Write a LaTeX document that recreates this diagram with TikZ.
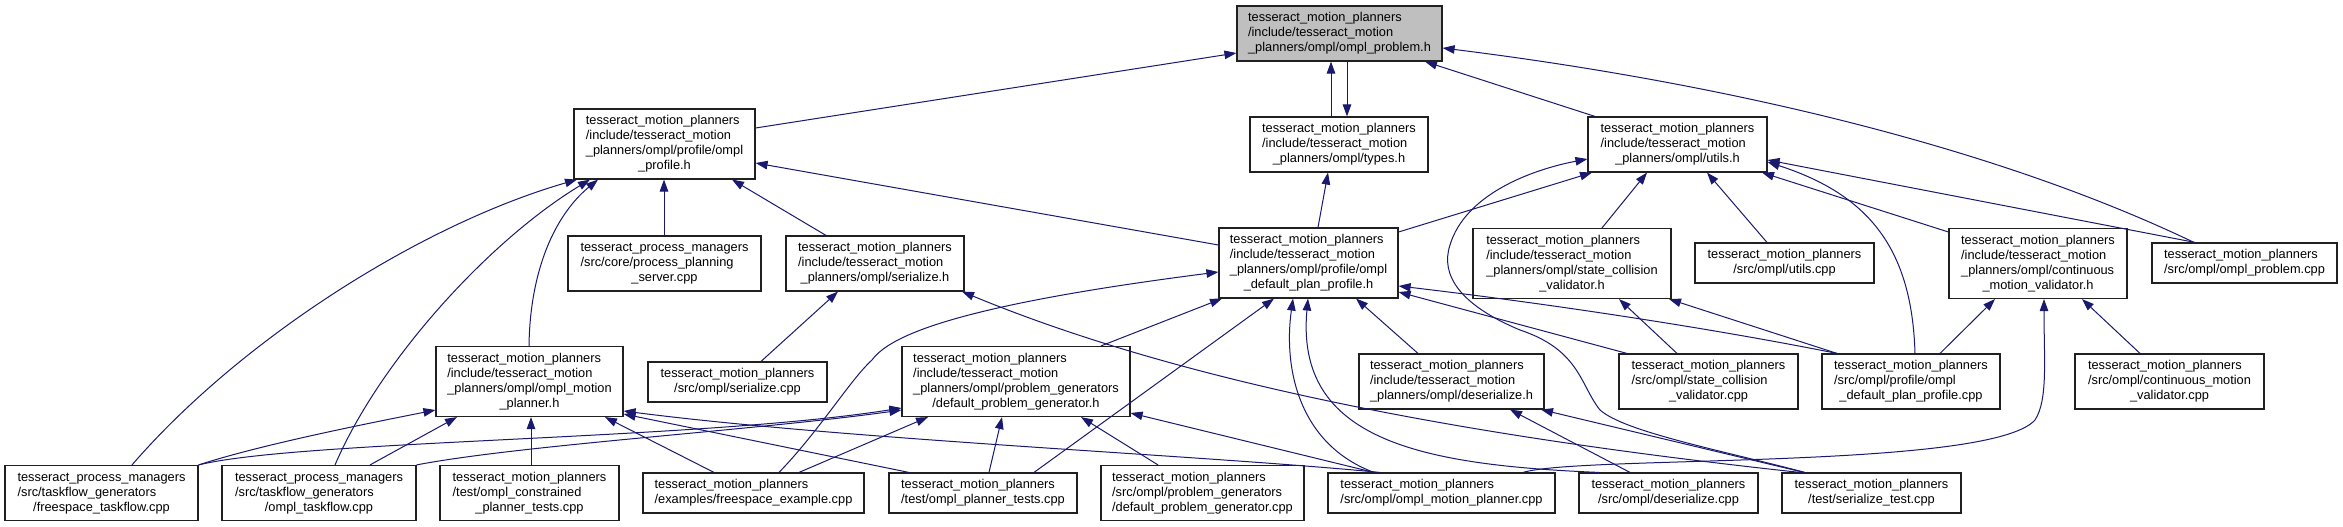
\documentclass[tikz,border=0pt]{standalone}
\usepackage{fontspec}
\setmainfont{Liberation Sans}
\usetikzlibrary{arrows.meta,calc}
\definecolor{edgeblue}{HTML}{191970}
\definecolor{probgray}{HTML}{BFBFBF}
\definecolor{boxline}{HTML}{202020}
\newcommand{\lbl}[2]{\begin{tabular}{@{}l@{}}#1\\\multicolumn{1}{@{}c@{}}{#2}\end{tabular}}
\begin{document}
\begin{tikzpicture}[x=1pt,y=-1pt,
  box/.style={draw=boxline, line width=1.15pt, fill=white, inner sep=0pt, anchor=center,
    font=\fontsize{12.8}{15}\selectfont},
  sz/.style 2 args={minimum width=#1pt, minimum height=#2pt},
  dep/.style={draw=edgeblue, line width=1pt, -{Triangle[length=12pt,width=8.5pt]}}]
\fill[white] (0,0) rectangle (2343,527);
\useasboundingbox (0,0) rectangle (2343,527);
% ---- nodes ----
\node[box,sz={205}{55},fill=probgray] (problem) at (1339.5,33.5) {\lbl{tesseract\_motion\_planners\\/include/tesseract\_motion}{\_planners/ompl/ompl\_problem.h}};
\node[box,sz={181}{70}] (profile) at (664.5,144) {\lbl{tesseract\_motion\_planners\\/include/tesseract\_motion\\\_planners/ompl/profile/ompl}{\_profile.h}};
\node[box,sz={178}{55}] (types) at (1339,144.5) {\lbl{tesseract\_motion\_planners\\/include/tesseract\_motion}{\_planners/ompl/types.h}};
\node[box,sz={179}{55}] (utils) at (1677.5,144.5) {\lbl{tesseract\_motion\_planners\\/include/tesseract\_motion}{\_planners/ompl/utils.h}};
\node[box,sz={193}{55}] (ppserver) at (664.5,263.5) {\lbl{tesseract\_process\_managers\\/src/core/process\_planning}{\_server.cpp}};
\node[box,sz={178}{55}] (serh) at (875,263.5) {\lbl{tesseract\_motion\_planners\\/include/tesseract\_motion}{\_planners/ompl/serialize.h}};
\node[box,sz={179}{70}] (dpph) at (1308.5,263) {\lbl{tesseract\_motion\_planners\\/include/tesseract\_motion\\\_planners/ompl/profile/ompl}{\_default\_plan\_profile.h}};
\node[box,sz={198}{70}] (sch) at (1572,263.5) {\lbl{tesseract\_motion\_planners\\/include/tesseract\_motion\\\_planners/ompl/state\_collision}{\_validator.h}};
\node[box,sz={179}{40}] (utilscpp) at (1784.5,263) {\lbl{tesseract\_motion\_planners}{/src/ompl/utils.cpp}};
\node[box,sz={178}{70}] (cmvh) at (2038,263.5) {\lbl{tesseract\_motion\_planners\\/include/tesseract\_motion\\\_planners/ompl/continuous}{\_motion\_validator.h}};
\node[box,sz={185}{40}] (opcpp) at (2244.5,263) {\lbl{tesseract\_motion\_planners}{/src/ompl/ompl\_problem.cpp}};
\node[box,sz={187}{70}] (omph) at (529.5,381.5) {\lbl{tesseract\_motion\_planners\\/include/tesseract\_motion\\\_planners/ompl/ompl\_motion}{\_planner.h}};
\node[box,sz={179}{40}] (sercpp) at (737.5,382) {\lbl{tesseract\_motion\_planners}{/src/ompl/serialize.cpp}};
\node[box,sz={228}{70}] (dpgh) at (1016,381.5) {\lbl{tesseract\_motion\_planners\\/include/tesseract\_motion\\\_planners/ompl/problem\_generators}{/default\_problem\_generator.h}};
\node[box,sz={185}{55}] (desh) at (1451.5,381.5) {\lbl{tesseract\_motion\_planners\\/include/tesseract\_motion}{\_planners/ompl/deserialize.h}};
\node[box,sz={179}{55}] (scvcpp) at (1708.5,381.5) {\lbl{tesseract\_motion\_planners\\/src/ompl/state\_collision}{\_validator.cpp}};
\node[box,sz={178}{55}] (odpp) at (1911,381.5) {\lbl{tesseract\_motion\_planners\\/src/ompl/profile/ompl}{\_default\_plan\_profile.cpp}};
\node[box,sz={189}{55}] (cmvcpp) at (2169.5,381.5) {\lbl{tesseract\_motion\_planners\\/src/ompl/continuous\_motion}{\_validator.cpp}};
\node[box,sz={193}{55}] (fstf) at (101.5,493) {\lbl{tesseract\_process\_managers\\/src/taskflow\_generators}{/freespace\_taskflow.cpp}};
\node[box,sz={194}{55}] (otf) at (319,493) {\lbl{tesseract\_process\_managers\\/src/taskflow\_generators}{/ompl\_taskflow.cpp}};
\node[box,sz={179}{55}] (constr) at (529.5,493) {\lbl{tesseract\_motion\_planners\\/test/ompl\_constrained}{\_planner\_tests.cpp}};
\node[box,sz={221}{40}] (fsex) at (753.5,493) {\lbl{tesseract\_motion\_planners}{/examples/freespace\_example.cpp}};
\node[box,sz={188}{40}] (ptests) at (983,493) {\lbl{tesseract\_motion\_planners}{/test/ompl\_planner\_tests.cpp}};
\node[box,sz={203}{55}] (dpgcpp) at (1202.5,493) {\lbl{tesseract\_motion\_planners\\/src/ompl/problem\_generators}{/default\_problem\_generator.cpp}};
\node[box,sz={227}{40}] (ompcpp) at (1441.5,493) {\lbl{tesseract\_motion\_planners}{/src/ompl/ompl\_motion\_planner.cpp}};
\node[box,sz={179}{40}] (descpp) at (1668.5,493) {\lbl{tesseract\_motion\_planners}{/src/ompl/deserialize.cpp}};
\node[box,sz={179}{40}] (sertest) at (1871.5,493) {\lbl{tesseract\_motion\_planners}{/test/serialize\_test.cpp}};
% ---- edges to ompl_problem.h ----
\draw[dep] (profile.east |- 0,128) -- (problem.west |- 0,53);
\draw[dep] (types.north -| 1331,0) -- (problem.south -| 1331,0);
\draw[dep] (problem.south -| 1347,0) -- (types.north -| 1347,0);
\draw[dep] (utils.north -| 1595,0) -- (problem.south -| 1425,0);
\draw[dep] (opcpp.north -| 2194,0) .. controls (1980,140) and (1700,80) .. (problem.east |- 0,48);
% ---- edges to ompl_profile.h ----
\draw[dep] (ppserver.north -| 664,0) -- (profile.south -| 664,0);
\draw[dep] (serh.north -| 826,0) -- (profile.south -| 732,0);
\draw[dep] (dpph.west |- 0,245) -- (profile.east |- 0,163);
\draw[dep] (omph.north -| 529,0) .. controls (530,270) and (555,215) .. (profile.south -| 598,0);
\draw[dep] (fstf.north -| 132,0) .. controls (240,340) and (420,225) .. (profile.south -| 577,0);
\draw[dep] (otf.north -| 335,0) .. controls (380,360) and (490,240) .. (profile.south -| 590,0);
% ---- edges to types.h / utils.h ----
\draw[dep] (dpph.north -| 1318,0) -- (types.south -| 1328,0);
\draw[dep] (dpph.east |- 0,232) -- (utils.south -| 1592,0);
\draw[dep] (sch.north -| 1602,0) -- (utils.south -| 1647,0);
\draw[dep] (utilscpp.north -| 1767,0) -- (utils.south -| 1707,0);
\draw[dep] (cmvh.west |- 0,232) -- (utils.south -| 1762,0);
\draw[dep] (opcpp.north -| 2195,0) -- (utils.east |- 0,160);
\draw[dep] (odpp.north -| 1915,0) .. controls (1912,250) and (1870,195) .. (utils.east |- 0,162);
\draw[dep] (sertest.north -| 1805,0) .. controls (1720,450) and (1625,432) .. (1600,410)
   .. controls (1580,385) and (1580,350) .. (1520,330)
   .. controls (1460,305) and (1440,275) .. (1450,245)
   .. controls (1465,195) and (1530,170) .. (utils.west |- 0,159);
% ---- edges to serialize.h ----
\draw[dep] (sercpp.north -| 761,0) -- (serh.south -| 838,0);
\draw[dep] (sertest.north -| 1800,0) .. controls (1500,440) and (1200,390) .. (serh.south -| 962,0);
% ---- edges to ompl_default_plan_profile.h ----
\draw[dep] (dpgh.north -| 1101,0) -- (dpph.south -| 1222,0);
\draw[dep] (fsex.north -| 779,0) .. controls (820,430) and (850,380) .. (872,360)
   .. controls (890,335) and (960,305) .. (dpph.west |- 0,272);
\draw[dep] (ptests.north -| 1034,0) -- (dpph.south -| 1274,0);
\draw[dep] (ompcpp.north -| 1374,0) .. controls (1300,445) and (1283,370) .. (dpph.south -| 1293,0);
\draw[dep] (descpp.north -| 1599,0) .. controls (1420,465) and (1295,440) .. (dpph.south -| 1308,0);
\draw[dep] (desh.north -| 1418,0) -- (dpph.south -| 1356,0);
\draw[dep] (scvcpp.north -| 1627,0) -- (dpph.east |- 0,292);
\draw[dep] (odpp.north -| 1837,0) .. controls (1720,330) and (1560,305) .. (dpph.east |- 0,286);
% ---- edges to state_collision_validator.h / continuous_motion_validator.h ----
\draw[dep] (scvcpp.north -| 1677,0) -- (sch.south -| 1619,0);
\draw[dep] (odpp.north -| 1837,0) -- (sch.south -| 1669,0);
\draw[dep] (odpp.north -| 1940,0) -- (cmvh.south -| 1995,0);
\draw[dep] (cmvcpp.north -| 2140,0) -- (cmvh.south -| 2082,0);
\draw[dep] (ompcpp.north -| 1523,0) .. controls (1580,455) and (1990,470) .. (2035,420)
   .. controls (2048,400) and (2044,360) .. (cmvh.south -| 2044,0);
% ---- edges to ompl_motion_planner.h ----
\draw[dep] (constr.north -| 531,0) -- (omph.south -| 531,0);
\draw[dep] (fsex.north -| 714,0) -- (omph.south -| 605,0);
\draw[dep] (ptests.north -| 909,0) -- (omph.east |- 0,414);
\draw[dep] (ompcpp.north -| 1380,0) .. controls (1200,455) and (850,440) .. (omph.east |- 0,411);
\draw[dep] (fstf.north east) .. controls (260,445) and (360,425) .. (omph.west |- 0,410);
\draw[dep] (otf.north -| 370,0) -- (omph.south -| 457,0);
% ---- edges to default_problem_generator.h ----
\draw[dep] (fstf.north east) .. controls (300,440) and (700,440) .. (dpgh.west |- 0,408);
\draw[dep] (otf.north east) .. controls (520,445) and (760,430) .. (dpgh.west |- 0,410);
\draw[dep] (fsex.north -| 799,0) -- (dpgh.south -| 928,0);
\draw[dep] (ptests.north -| 989,0) -- (dpgh.south -| 1002,0);
\draw[dep] (dpgcpp.north -| 1158,0) -- (dpgh.south -| 1081,0);
\draw[dep] (ompcpp.north -| 1374,0) -- (dpgh.east |- 0,413);
% ---- edges to deserialize.h ----
\draw[dep] (descpp.north -| 1630,0) -- (desh.south -| 1510,0);
\draw[dep] (sertest.north -| 1804,0) -- (desh.south -| 1541,0);
\end{tikzpicture}
\end{document}
